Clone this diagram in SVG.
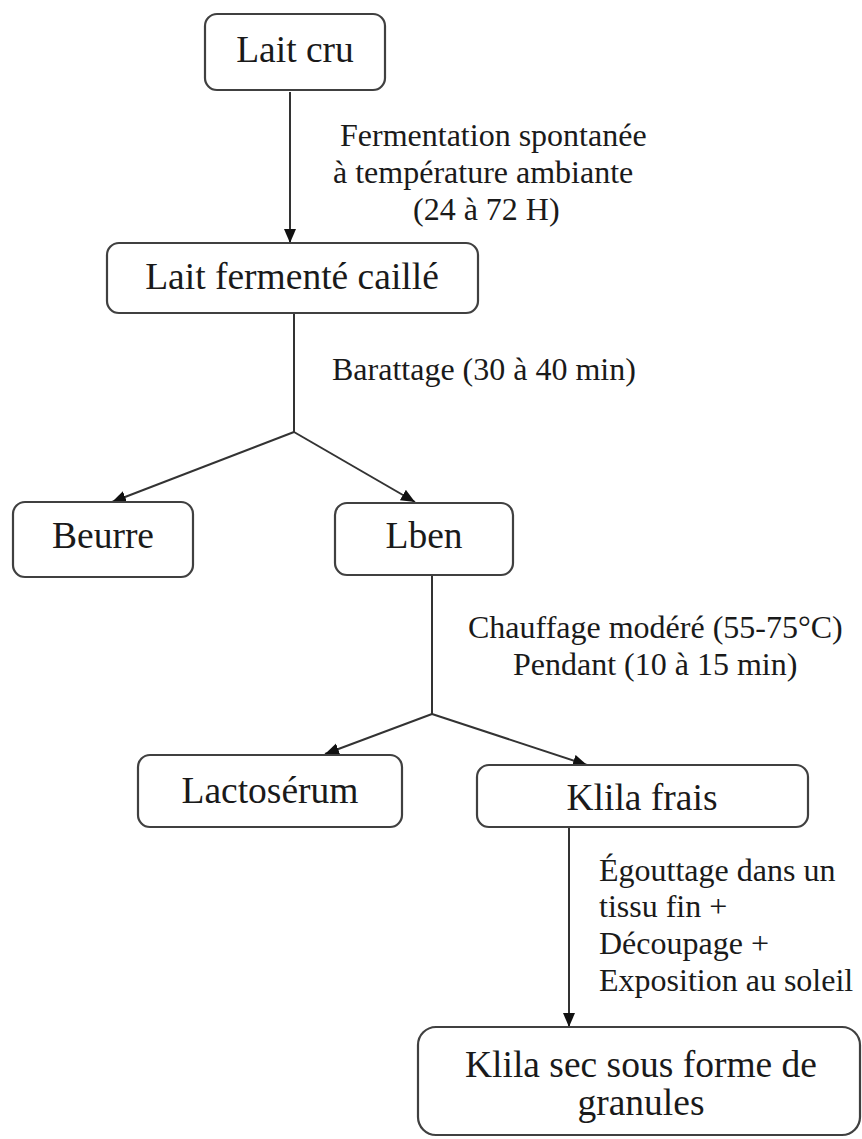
<svg xmlns="http://www.w3.org/2000/svg" width="862" height="1139" viewBox="0 0 862 1139">
<style>
.box{fill:#fff;stroke:#404040;stroke-width:2.2}
.nt{font-family:'Liberation Serif','DejaVu Serif',serif;font-size:37.5px;fill:#1a1a1a;text-anchor:middle}
.lb{font-family:'Liberation Serif','DejaVu Serif',serif;font-size:32px;fill:#1a1a1a}
.cn{stroke:#333;stroke-width:2;fill:none}
</style>
<defs>
<marker id="ah" markerUnits="userSpaceOnUse" markerWidth="16" markerHeight="14" refX="14" refY="6" orient="auto">
<path d="M0,0 L14,6 L0,12 Z" fill="#111"/>
</marker>
</defs>
<rect width="862" height="1139" fill="#fff"/>
<g id="connectors">
<line class="cn" x1="290" y1="92" x2="290" y2="243" marker-end="url(#ah)"/>
<polyline class="cn" points="294,313 294,432"/>
<line class="cn" x1="294" y1="432" x2="112" y2="502" marker-end="url(#ah)"/>
<line class="cn" x1="294" y1="432" x2="415" y2="502" marker-end="url(#ah)"/>
<polyline class="cn" points="432,575 432,714"/>
<line class="cn" x1="432" y1="714" x2="325" y2="754" marker-end="url(#ah)"/>
<line class="cn" x1="432" y1="714" x2="587" y2="765" marker-end="url(#ah)"/>
<line class="cn" x1="569" y1="827" x2="569" y2="1027" marker-end="url(#ah)"/>
</g>
<g id="labels">
<text class="lb" x="340" y="146">Fermentation spontanée</text>
<text class="lb" x="333" y="183">à température ambiante</text>
<text class="lb" x="413" y="220">(24 à 72 H)</text>
<text class="lb" x="332" y="380">Barattage (30 à 40 min)</text>
<text class="lb" x="468" y="638">Chauffage modéré (55-75°C)</text>
<text class="lb" x="513" y="675">Pendant (10 à 15 min)</text>
<text class="lb" x="599" y="881">Égouttage dans un</text>
<text class="lb" x="599" y="917">tissu fin +</text>
<text class="lb" x="599" y="954">Découpage +</text>
<text class="lb" x="599" y="991">Exposition au soleil</text>
</g>
<g id="n-lait-cru">
<rect class="box" x="205" y="14" width="180" height="76" rx="12"/>
<text class="nt" x="295" y="62">Lait cru</text>
</g>
<g id="n-lait-fermente">
<rect class="box" x="107" y="243" width="371" height="70" rx="12"/>
<text class="nt" x="292" y="289">Lait fermenté caillé</text>
</g>
<g id="n-beurre">
<rect class="box" x="13" y="502" width="180" height="75" rx="12"/>
<text class="nt" x="103" y="548">Beurre</text>
</g>
<g id="n-lben">
<rect class="box" x="335" y="503" width="178" height="72" rx="12"/>
<text class="nt" x="424" y="548">Lben</text>
</g>
<g id="n-lactoserum">
<rect class="box" x="138" y="755" width="264" height="72" rx="12"/>
<text class="nt" x="270" y="803">Lactosérum</text>
</g>
<g id="n-klila-frais">
<rect class="box" x="477" y="765" width="331" height="62" rx="12"/>
<text class="nt" x="642" y="810">Klila frais</text>
</g>
<g id="n-klila-sec">
<rect class="box" x="418" y="1027" width="442" height="108" rx="18"/>
<text class="nt" x="641" y="1077">Klila sec sous forme de</text>
<text class="nt" x="641" y="1115">granules</text>
</g>
</svg>
